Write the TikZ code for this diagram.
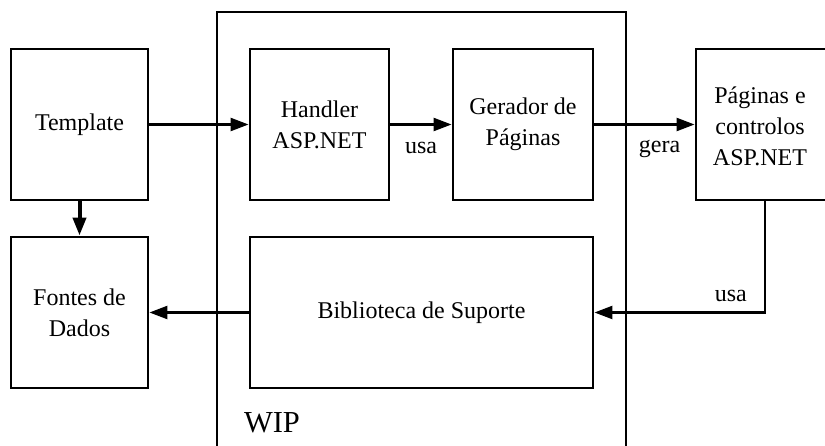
\documentclass[tikz,border=0pt]{standalone}
\usepackage{fontspec}
\setmainfont{Liberation Serif}
\usetikzlibrary{arrows.meta}

\begin{document}
\begin{tikzpicture}
	[x=1pt,y=-1pt, every node/.style={draw,line width=2.9pt,minimum height=151pt,align=center,inner sep=0pt,font=\fontsize{24}{31}\selectfont},
	conn/.style={line width=2.4pt,-{Triangle[length=18pt,width=13pt]}},
	lbl/.style={draw=none,minimum height=0pt,minimum width=0pt}]
	\useasboundingbox (0,0) rectangle (825,446);
	\clip (0,0) rectangle (825,446);
	\draw[line width=2.6pt] (217,12) rectangle (626,470);
	\node[lbl,font=\fontsize{30.5}{36}\selectfont] (wip) at (272,423) {WIP};
	
	\node[minimum width=137pt] (tpl) at (79.5,124.5) {Template};
	\node[minimum width=137pt] (fontes) at (79.5,312.5) {Fontes de\\Dados};
	\node[minimum width=139pt] (handler) at (319.5,124.5) {Handler\\ASP.NET};
	\node[minimum width=140pt] (gerador) at (523,124.5) {Gerador de\\Páginas};
	\node[minimum width=137pt] (paginas) at (764.5,124.5) {};
	\node[lbl] (paginastxt) at (760,126) {Páginas e\\controlos\\ASP.NET};
	\node[minimum width=343pt] (biblio) at (421.5,312.5) {Biblioteca de Suporte};
	
	\foreach \a/\b in {tpl/handler,biblio/fontes}
	\draw[conn] (\a) -- (\b);
	\draw[conn,line width=4pt] (tpl) -- (fontes);
	\draw[conn] (handler) -- node[lbl,below=16pt] {usa} (gerador);
	\draw[conn] (gerador) -- node[lbl,pos=0.65,below=14pt] {gera} (paginas);
	\draw[conn] ([xshift=0.5pt]paginas.south) |- node[lbl,pos=0.6,above=9pt] {usa} (biblio);
\end{tikzpicture}
\end{document}
